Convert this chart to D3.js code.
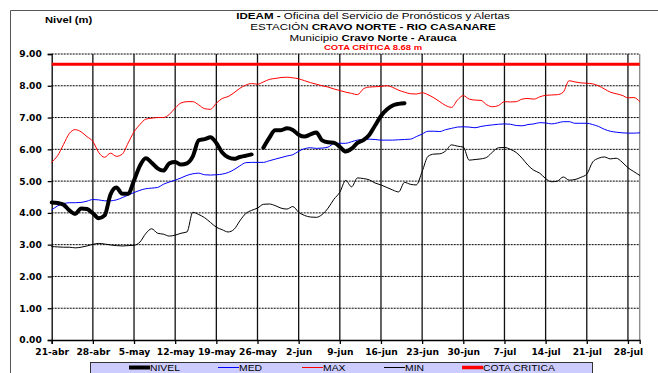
<!DOCTYPE html>
<html>
<head>
<meta charset="utf-8">
<script src="https://cdn.jsdelivr.net/npm/d3@7"></script>
<style>
  html, body { margin: 0; padding: 0; background: #ffffff; }
  svg { display: block; }
</style>
</head>
<body>
<svg id="chart" width="658" height="373"></svg>
<script>
// Daily river levels (m), station Cravo Norte - Río Casanare, from 21-abr (day 0) to 30-jul (day 100)
const weekLabels = ["21-abr","28-abr","5-may","12-may","19-may","26-may","2-jun","9-jun","16-jun","23-jun","30-jun","7-jul","14-jul","21-jul","28-jul"];
const yTicks = [0, 1, 2, 3, 4, 5, 6, 7, 8, 9];
const cotaCritica = 8.68;

const nivel = [4.33,4.31,4.26,4.08,3.97,4.14,4.12,3.99,3.83,3.92,4.58,4.80,4.60,4.60,5.02,5.48,5.72,5.58,5.40,5.33,5.56,5.60,5.52,5.56,5.78,6.28,6.32,6.38,6.20,5.90,5.75,5.70,5.76,5.80,5.84,null,
  6.05,6.36,6.60,6.60,6.66,6.61,6.46,6.40,6.47,6.53,6.28,6.22,6.21,6.08,5.93,6.02,6.20,6.29,6.45,6.75,7.05,7.25,7.38,7.43,7.45];

const med = [4.09,4.22,4.29,4.32,4.32,4.33,4.37,4.42,4.41,4.38,4.38,4.41,4.48,4.56,4.64,4.71,4.76,4.78,4.80,4.90,4.97,5.03,5.10,5.18,5.23,5.25,5.20,5.19,5.20,5.22,
  5.27,5.36,5.48,5.58,5.59,5.59,5.59,5.64,5.69,5.74,5.79,5.83,5.94,6.02,6.05,6.03,6.04,6.07,6.18,6.19,6.19,6.24,6.29,6.31,6.32,6.31,6.29,6.29,6.29,6.30,
  6.31,6.32,6.40,6.48,6.57,6.57,6.56,6.62,6.66,6.70,6.71,6.70,6.68,6.72,6.75,6.77,6.79,6.80,6.79,6.75,6.74,6.78,6.80,6.84,6.83,6.80,6.83,6.87,6.87,6.82,
  6.82,6.82,6.78,6.72,6.63,6.57,6.54,6.52,6.51,6.51,6.52];

const max = [5.60,5.80,6.15,6.50,6.62,6.55,6.40,6.25,5.90,5.75,5.88,5.78,5.85,6.20,6.55,6.78,6.95,6.98,7.00,7.00,7.10,7.30,7.46,7.50,7.50,7.40,7.28,7.26,7.45,7.60,
  7.66,7.78,7.92,8.02,8.07,8.05,8.12,8.20,8.23,8.26,8.27,8.25,8.22,8.16,8.10,8.05,8.00,7.96,7.90,7.85,7.80,7.76,7.72,7.90,7.96,7.97,7.98,8.00,7.95,7.86,
  7.80,7.75,7.74,7.78,7.72,7.62,7.50,7.38,7.32,7.55,7.69,7.58,7.55,7.54,7.40,7.34,7.38,7.50,7.49,7.50,7.58,7.60,7.58,7.65,7.70,7.71,7.72,7.80,8.16,8.12,
  8.09,8.08,8.06,8.00,7.90,7.80,7.75,7.70,7.62,7.63,7.50];

const min = [2.94,2.93,2.92,2.92,2.90,2.92,2.96,3.01,3.04,3.02,2.99,2.97,2.96,2.97,2.98,3.08,3.35,3.50,3.36,3.33,3.27,3.30,3.36,3.40,4.02,3.95,3.85,3.70,3.55,3.47,
  3.40,3.48,3.75,3.98,4.08,4.15,4.27,4.28,4.23,4.15,4.12,4.20,4.02,3.92,3.87,3.86,3.95,4.15,4.43,4.65,5.02,4.82,5.10,5.08,5.04,4.94,4.88,4.80,4.72,4.66,
  4.96,4.90,4.88,5.30,5.78,5.85,5.86,5.95,6.14,6.10,6.07,5.66,5.68,5.70,5.75,5.92,6.05,6.06,6.00,5.90,5.72,5.50,5.34,5.25,5.08,4.98,5.00,5.13,5.03,5.05,
  5.12,5.22,5.60,5.72,5.76,5.70,5.72,5.60,5.42,5.30,5.18];

const legendItems = [
  { name: "NIVEL", color: "#000000", width: 4 },
  { name: "MED", color: "#0000ff", width: 1 },
  { name: "MAX", color: "#ff0000", width: 1 },
  { name: "MIN", color: "#000000", width: 1 },
  { name: "COTA CRITICA", color: "#ff0000", width: 3.5 }
];

const svg = d3.select("#chart");
const W = 658, H = 373;
const plot = { left: 51.7, right: 639.7, top: 54, bottom: 340 };
const SX = 1.18; // horizontal stretch applied to all text

const x = d3.scaleLinear().domain([0, 100]).range([plot.left, plot.right]);
const y = d3.scaleLinear().domain([0, 9]).range([plot.bottom, plot.top]);

// Outer frame
svg.append("path")
  .attr("d", `M10.5,${H} V10.5 H${W}`)
  .attr("fill", "none").attr("stroke", "#555").attr("stroke-width", 1);

function stretchedText(g, tx, ty, str, opts) {
  const t = g.append("text")
    .attr("transform", `translate(${tx},${ty}) scale(${opts.sx || SX},1)`)
    .attr("text-anchor", opts.anchor || "middle")
    .attr("font-family", opts.family || "Liberation Sans, Arial, sans-serif")
    .attr("font-size", opts.size)
    .attr("fill", opts.fill || "#000");
  return t;
}

// Titles
const tg = svg.append("g");
let t1 = stretchedText(tg, 373, 19, "", { size: 9.8 });
t1.append("tspan").attr("font-weight", "bold").text("IDEAM - ");
t1.append("tspan").text("Oficina del Servicio de Pronósticos y Alertas");
let t2 = stretchedText(tg, 373, 30, "", { size: 9.8 });
t2.append("tspan").text("ESTACIÓN ");
t2.append("tspan").attr("font-weight", "bold").text("CRAVO NORTE  - RIO CASANARE");
let t3 = stretchedText(tg, 373, 41, "", { size: 9.8 });
t3.append("tspan").text("Municipio ");
t3.append("tspan").attr("font-weight", "bold").text("Cravo Norte - Arauca");
stretchedText(tg, 373, 49.5, "", { size: 8, fill: "#ff0000" })
  .attr("font-weight", "bold").text("COTA CRÍTICA 8.68 m");
stretchedText(tg, 45, 22.5, "", { size: 9.5, anchor: "start" })
  .attr("font-weight", "bold").text("Nivel (m)");

// Horizontal dotted gridlines
svg.append("g").selectAll("line").data(yTicks.filter(d => d > 0)).join("line")
  .attr("x1", plot.left).attr("x2", plot.right)
  .attr("y1", d => y(d)).attr("y2", d => y(d))
  .attr("stroke", "#000").attr("stroke-width", 1).attr("stroke-dasharray", "2,1");

// Vertical weekly gridlines
const weekDays = weekLabels.map((_, i) => i * 7);
svg.append("g").selectAll("line").data(weekDays.slice(1)).join("line")
  .attr("x1", d => x(d)).attr("x2", d => x(d))
  .attr("y1", plot.top).attr("y2", plot.bottom)
  .attr("stroke", "#111").attr("stroke-width", 1.3);
svg.append("line")
  .attr("x1", plot.right).attr("x2", plot.right)
  .attr("y1", plot.top).attr("y2", plot.bottom)
  .attr("stroke", "#888").attr("stroke-width", 1.3);

// Axes
const xAxis = d3.axisBottom(x).tickValues(weekDays).tickSize(4)
  .tickFormat((d, i) => weekLabels[i]);
const gx = svg.append("g").attr("transform", `translate(0,${plot.bottom})`).call(xAxis);
gx.select(".domain").attr("stroke", "#000").attr("stroke-width", 1.3);
gx.selectAll(".tick line").attr("stroke", "#000").attr("stroke-width", 1.3);
gx.selectAll(".tick text")
  .attr("font-family", "DejaVu Sans, sans-serif").attr("font-weight", "bold").attr("font-size", 8.3)
  .attr("fill", "#000").attr("dy", 0).attr("y", 15)
  .attr("transform", "scale(1.1,1)")
  .attr("x", function() { return 0; });

const yAxis = d3.axisLeft(y).tickValues(yTicks).tickSize(4).tickFormat(d3.format(".2f"));
const gy = svg.append("g").attr("transform", `translate(${plot.left},0)`).call(yAxis);
gy.select(".domain").attr("stroke", "#000").attr("stroke-width", 1.3);
gy.selectAll(".tick line").attr("stroke", "#000").attr("stroke-width", 1.3);
gy.selectAll(".tick text")
  .attr("font-family", "DejaVu Sans, sans-serif").attr("font-weight", "bold").attr("font-size", 8.3)
  .attr("fill", "#000").attr("x", -9).attr("dy", "0.35em")
  .attr("transform", "scale(1.1,1)");

// Critical level
svg.append("line")
  .attr("x1", plot.left).attr("x2", plot.right)
  .attr("y1", y(cotaCritica)).attr("y2", y(cotaCritica))
  .attr("stroke", "#ff0000").attr("stroke-width", 3);

// Series lines
const line = d3.line()
  .defined(d => d != null)
  .x((d, i) => x(i))
  .y(d => y(d))
  .curve(d3.curveMonotoneX);

function drawSeries(arr, color, width) {
  svg.append("path")
    .attr("d", line(arr))
    .attr("fill", "none").attr("stroke", color).attr("stroke-width", width)
    .attr("stroke-linejoin", "round").attr("stroke-linecap", "round");
}
drawSeries(min, "#000000", 1);
drawSeries(max, "#ff0000", 1);
drawSeries(med, "#0000ff", 1);
drawSeries(nivel, "#000000", 4);

// Legend
const lg = svg.append("g");
lg.append("rect").attr("x", 90.5).attr("y", 362.5).attr("width", 502).attr("height", 20)
  .attr("fill", "#ccccff").attr("stroke", "#333").attr("stroke-width", 1);
const legendX = [129, 218, 302, 384, 462];
legendItems.forEach((it, i) => {
  lg.append("line")
    .attr("x1", legendX[i]).attr("x2", legendX[i] + 21)
    .attr("y1", 367.5).attr("y2", 367.5)
    .attr("stroke", it.color).attr("stroke-width", it.width);
  stretchedText(lg, legendX[i] + 21, 371, "", { size: 8.8, anchor: "start" }).text(it.name);
});
</script>
</body>
</html>
